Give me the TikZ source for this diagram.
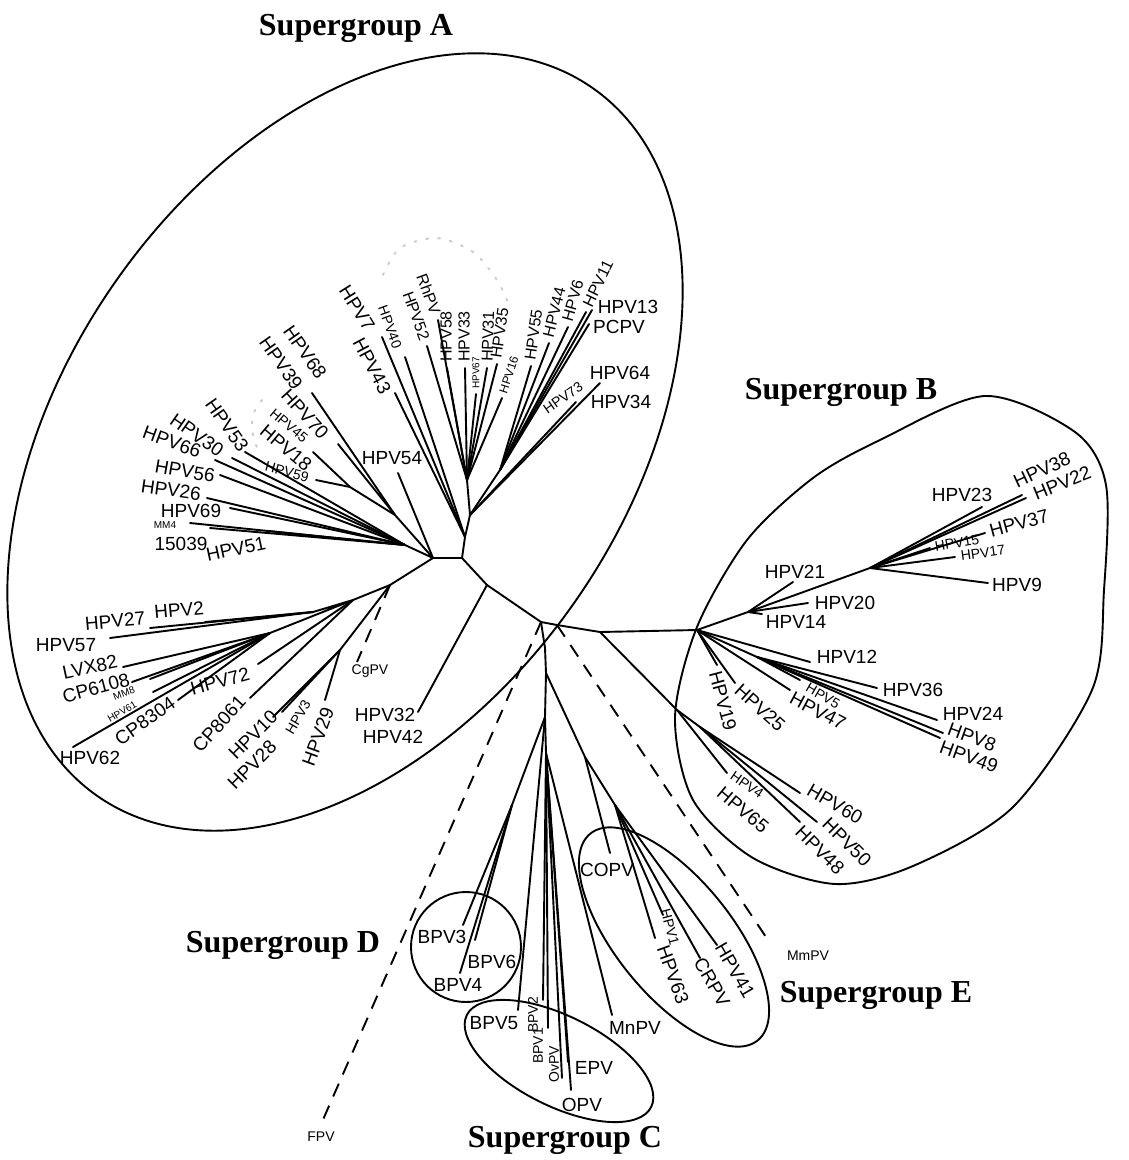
\documentclass[tikz,border=0pt]{standalone}
\usepackage{fontspec}
\setmainfont{Liberation Serif}
\setsansfont{Liberation Sans}

\begin{document}
\begin{tikzpicture}[x=1pt, y=-1pt,
    br/.style={line width=1.9pt, line cap=round},
    dsh/.style={line width=1.9pt, dash pattern=on 14pt off 10pt},
    ring/.style={line width=1.9pt},
    haze/.style={gray!40, line width=2pt, line cap=round, dash pattern=on 2pt off 10pt},
    lbl/.style={font=\sffamily\fontsize{19}{19}\selectfont, inner sep=0pt},
    lbm/.style={font=\sffamily\fontsize{16}{16}\selectfont, inner sep=0pt},
    lbs/.style={font=\sffamily\fontsize{14}{14}\selectfont, inner sep=0pt},
    lbt/.style={font=\sffamily\fontsize{10}{10}\selectfont, inner sep=0pt},
    grp/.style={font=\bfseries\fontsize{32}{32}\selectfont, inner sep=0pt}]

\useasboundingbox (0,0) rectangle (1129,1160);

% supergroup outlines
\draw[ring, rotate around={55:(345,442)}] (345,442) ellipse [x radius=432pt, y radius=280pt];
\draw[ring] plot[smooth cycle] coordinates {(880,440) (985,396) (1075,432) (1106,485) (1104,590)
  (1092,690) (1013,807) (913,866) (835,884) (753,858) (693,800) (675,717) (697,627) (747,540) (813,478)};
\draw[ring] (466,947) circle [radius=55pt];
\draw[ring, rotate around={-26.5:(559,1061)}] (559,1061) ellipse [x radius=103pt, y radius=45pt];
\draw[ring, rotate around={-51:(674,937)}] (674,937) ellipse [x radius=133pt, y radius=58pt];

% faint dotted rings
\draw[haze] plot[smooth] coordinates {(383,275) (400,248) (437,238) (473,252) (497,280) (509,305)};
\draw[haze] plot[smooth] coordinates {(262,400) (253,415) (253,435) (260,455)};

% inner nodes
\foreach \n/\x/\y in {nA1/433/558, nA2/462/558, a32/487/585, R1/541/622, R2/557/625, R3/545/648,
    T0/465/537, T1/470/515, Ta/467/480, Tb/500/470,
    k1/395/515, k2/350/487, k3/405/545,
    L1/390/585, L2/353/600, L3/313/612, L4/270/633, h29/340/650,
    g1/600/632, g2/677/710, g3/700/727, Bh/697/630, B1/748/612, B2/870/568, b3/757/657,
    V1/546/673, V2/545/717, V3/546/753, D0/512/805, E1/585/757, E2/615/805}
  \coordinate (\n) at (\x,\y);

% branch tips
\foreach \n/\x/\y in {hpv7/382/337, hpv43/395/393, hpv40/405/357,
    hpv52/427/346, rhpv/438/320, hpv58/447/368, hpv33/465/368, hpv67/476/394,
    hpv31/487/368, hpv35/497/364, hpv16/502/398,
    hpv55/531/366, hpv44/549/343, hpv6/568/327, hpv11/586/312, hpv13/592/310, pcpv/589/324,
    hpv64/600/383, hpv73/576/402, hpv54/398/473,
    hpv68/312/393, hpv70/338/444, hpv18/313/452, hpv59/316/480,
    hpv53/245/452, hpv30/232/458, hpv66/215/460, hpv56/220/475, hpv26/207/498,
    hpv69/230/508, mm4/190/523, i15039/210/528, hpv51/268/531,
    cgpv/357/662, hpv29/325/700, hpv10/273/717, hpv3/282/712, cp8061/250/698, hpv72/258/664,
    hpv57/110/638, hpv27/150/628, hpv2/205/622,
    lvx82/123/667, cp6108/132/682, mm8/150/679, hpv61/153/692, cp8304/178/700, hpv62/73/747,
    hpv32/418/712,
    hpv4/727/773, hpv60/800/793, hpv50/817/822, hpv48/800/822,
    hpv21/793/582, hpv20/808/603, hpv14/762/614,
    hpv9/988/583, hpv38/1022/495, hpv22/1026/498, hpv23/982/507, hpv37/985/533, hpv15/930/548, hpv17/955/557,
    hpv36/877/688, hpv24/937/720, hpv8/943/733, hpv49/940/738, hpv5/800/680,
    hpv12/810/662, hpv47/790/690, hpv25/735/683, hpv19/717/665,
    mmpv/770/943, fpv/322/1122,
    copv/610/853, hpv1/663/915, hpv63/655/938, crpv/700/958, hpv41/717/945,
    bpv3/463/925, bpv6/475/940, bpv4/460/973, bpv5/518/1010,
    bpv2/543/1000, bpv1/548/1028, ovpv/562/1078, epv/568/1062, opv/571/1090, mnpv/612/1015}
  \coordinate (\n) at (\x,\y);

% backbone
\draw[br] (nA1) -- (nA2) -- (T0) -- (T1) (nA2) -- (a32) -- (R1) -- (R2)
  (R1) -- (R3) -- (V1) -- (V2) -- (V3);
\draw[br] (T1) -- (Ta) (T1) -- (Tb) (nA1) -- (k3) (nA1) -- (k1) -- (k2)
  (nA1) -- (L1) -- (L2) -- (L3) (L2) -- (L4) (L1) -- (h29) (a32) -- (hpv32);
\draw[br] (R2) -- (g1) -- (Bh) -- (B1) -- (B2) (g1) -- (g2) -- (g3) (Bh) -- (b3)
  (V1) -- (E1) -- (E2) (V2) -- (D0);

% fans
\foreach \t in {hpv7,hpv43,hpv40} \draw[br] (T0) -- (\t);
\foreach \t in {hpv52,rhpv,hpv58,hpv33,hpv67,hpv31,hpv35,hpv16} \draw[br] (Ta) -- (\t);
\foreach \t in {hpv55,hpv44,hpv6,hpv11,hpv13,pcpv} \draw[br] (Tb) -- (\t);
\foreach \t in {hpv64,hpv73} \draw[br] (T1) -- (\t);
\draw[br] (nA1) -- (hpv54);
\foreach \t in {hpv68,hpv70} \draw[br] (k1) -- (\t);
\foreach \t in {hpv18,hpv59} \draw[br] (k2) -- (\t);
\foreach \t in {hpv53,hpv30,hpv66,hpv56,hpv26,hpv69,mm4,i15039,hpv51} \draw[br] (k3) -- (\t);
\foreach \t in {hpv29,hpv10,hpv3} \draw[br] (h29) -- (\t);
\foreach \t in {cp8061,hpv72} \draw[br] (L2) -- (\t);
\foreach \t in {hpv57,hpv27,hpv2} \draw[br] (L3) -- (\t);
\foreach \t in {lvx82,cp6108,mm8,hpv61,cp8304,hpv62} \draw[br] (L4) -- (\t);
\draw[br] (g2) -- (hpv4);
\foreach \t in {hpv60,hpv50,hpv48} \draw[br] (g3) -- (\t);
\foreach \t in {hpv21,hpv20,hpv14} \draw[br] (B1) -- (\t);
\foreach \t in {hpv9,hpv38,hpv22,hpv23,hpv37,hpv15,hpv17} \draw[br] (B2) -- (\t);
\foreach \t in {hpv36,hpv24,hpv8,hpv49,hpv5} \draw[br] (b3) -- (\t);
\foreach \t in {hpv12,hpv47,hpv25,hpv19} \draw[br] (Bh) -- (\t);
\draw[br] (E1) -- (copv);
\foreach \t in {hpv1,hpv63,crpv,hpv41} \draw[br] (E2) -- (\t);
\foreach \t in {bpv3,bpv6,bpv4} \draw[br] (D0) -- (\t);
\draw[br] (V2) -- (bpv5);
\foreach \t in {bpv2,bpv1,ovpv,epv,opv,mnpv} \draw[br] (V3) -- (\t);

% dashed long branches
\draw[dsh] (L1) -- (cgpv);
\draw[dsh] (R2) -- (mmpv);
\draw[dsh] (R1) -- (fpv);

% labels standing on their tips (top fan)
\foreach \t/\x/\y/\r/\a in {RhPV/436/314/-70/east, HPV52/425/340/-70/east, HPV58/446/362/90/west,
    HPV33/464/362/90/west, HPV31/487/362/88/west, HPV35/496/358/82/west, HPV55/530/360/82/west,
    HPV44/548/337/76/west, HPV6/567/321/74/west, HPV11/587/306/64/west}
  \node[lbm, rotate=\r, anchor=\a] (l\t) at (\x,\y) {\t};
\node[font=\sffamily\fontsize{12}{12}\selectfont, inner sep=0pt, rotate=72, anchor=west] (lHPV16) at (503,393) {HPV16};
\node[lbt, rotate=90, anchor=west] (lHPV67) at (476,389) {HPV67};

% labels
\foreach \t/\x/\y/\r in {HPV7/357/308/-58, HPV43/372/366/-62,
    HPV13/628/307/0, PCPV/619/327/0,
    HPV64/620/373/0, HPV34/621/402/0, HPV54/392/458/0,
    HPV68/305/352/-55, HPV39/281/363/-55, HPV70/305/414/-48, HPV18/286/448/-40,
    HPV53/227/425/-55, HPV30/197/435/-35, HPV66/172/442/-20, HPV56/185/471/-10,
    HPV26/171/490/-8, HPV69/191/511/0, 15039/181/544/0, HPV51/236/549/12,
    HPV27/115/621/5, HPV2/179/610/5, HPV57/66/645/0, LVX82/90/667/12, CP6108/96/688/15,
    CP8304/145/721/35, HPV62/90/758/0, HPV72/220/681/15, CP8061/219/724/48,
    HPV10/253/735/45, HPV28/252/765/45, HPV29/318/737/70, HPV32/385/715/0, HPV42/393/737/0,
    HPV23/962/495/0, HPV38/1042/470/25, HPV22/1062/483/22, HPV37/1019/523/15, HPV9/1017/585/0,
    HPV21/795/572/0, HPV20/845/603/0, HPV14/796/622/0, HPV12/847/657/0, HPV36/913/690/0,
    HPV24/973/714/0, HPV8/972/737/-20, HPV49/969/757/-20, HPV47/818/711/-28, HPV25/760/708/-42,
    HPV19/723/701/-75, HPV60/835/804/-30, HPV50/847/842/-45, HPV48/820/850/-45, HPV65/743/810/-40,
    COPV/607/870/0, HPV63/673/975/-70, CRPV/712/982/-60, HPV41/735/970/-60,
    BPV3/442/937/0, BPV6/492/962/0, BPV4/458/985/0, BPV5/494/1023/0,
    EPV/594/1068/0, OPV/582/1105/0, MnPV/635/1028/0}
  \node[lbl, rotate=\r] (l\t) at (\x,\y) {\t};
\foreach \t/\x/\y/\r in {HPV40/390/327/-70, HPV73/563/398/35,
    HPV45/289/426/-40, HPV59/287/472/-15, HPV3/298/717/60, CgPV/370/671/0,
    HPV15/957/543/10, HPV17/983/553/8, HPV5/823/696/-30, HPV4/747/785/-35, HPV1/670/927/-75,
    MmPV/808/956/0, FPV/321/1137/0, BPV2/533/1015/90, BPV1/538/1046/90, OvPV/554/1064/90}
  \node[lbs, rotate=\r] (l\t) at (\x,\y) {\t};
\foreach \t/\x/\y/\r in {MM4/165/525/0, MM8/124/693/20, HPV61/122/712/30}
  \node[lbt, rotate=\r] (l\t) at (\x,\y) {\t};

% group titles
\node[grp] (sgA) at (356,28) {Supergroup A};
\node[grp] (sgB) at (841,392) {Supergroup B};
\node[grp] (sgC) at (565,1140) {Supergroup C};
\node[grp] (sgD) at (283,945) {Supergroup D};
\node[grp] (sgE) at (876,995) {Supergroup E};
\end{tikzpicture}
\end{document}
